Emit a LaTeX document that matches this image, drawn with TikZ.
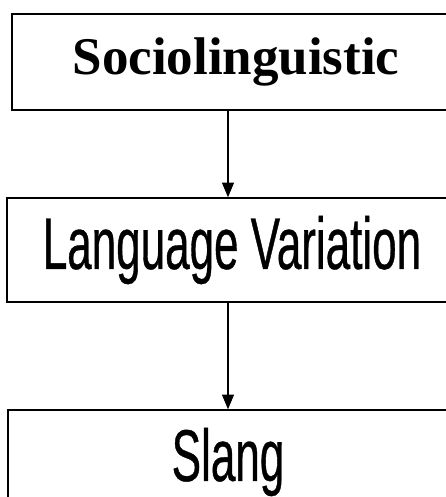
\documentclass[tikz,border=0pt]{standalone}
\usepackage{fontspec}
\setmainfont{Liberation Serif}
\newfontfamily\narrowsans[FakeStretch=0.6,FakeBold=0.5]{Liberation Sans}
\usetikzlibrary{arrows.meta}

\tikzset{
  box/.style={draw, line width=1.1pt, inner sep=0pt, minimum height=78pt},
  flow/.style={line width=0.8pt, -{Triangle[length=11pt,width=9pt]}},
  headfont/.style={font=\fontsize{39.75}{48}\selectfont\bfseries},
  narrowfont/.style={font=\fontsize{55}{64}\narrowsans},
}

\begin{document}
\begin{tikzpicture}[x=0.75pt,y=0.75pt,yscale=-1,xscale=1]
\useasboundingbox (0,0) rectangle (446,497);
\clip (0,0) rectangle (446,497);

\coordinate (axis) at (228,0);

\node [box, headfont, minimum width=336pt, minimum height=72pt] (socio) at (236,62) {Sociolinguistic};
\node [box, narrowfont, minimum width=337.5pt] (variation) at (232,250) {Language Variation};
\node [box, narrowfont, minimum width=330pt] (slang) at (228,462) {Slang};

\draw [flow] (socio.south -| axis) -- (variation.north -| axis);
\draw [flow] (variation.south -| axis) -- (slang.north -| axis);

\end{tikzpicture}
\end{document}
